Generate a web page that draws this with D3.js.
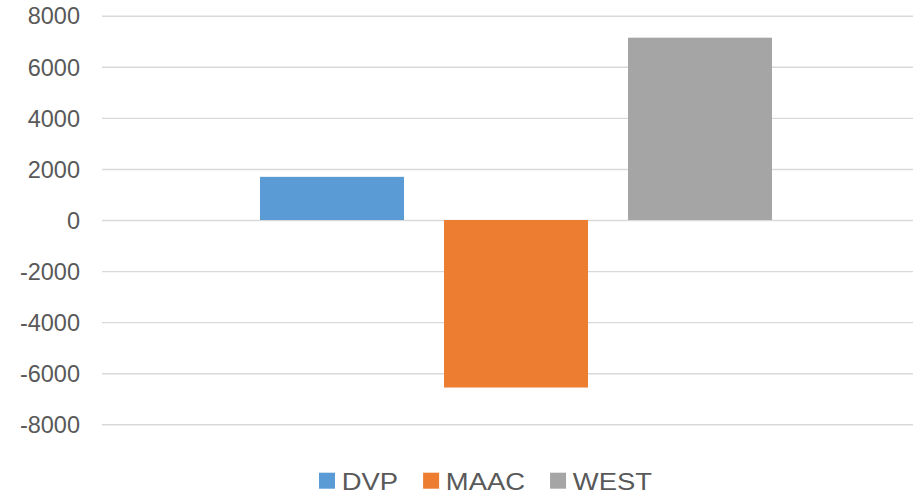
<!DOCTYPE html>
<html>
<head>
<meta charset="utf-8">
<script src="https://cdn.jsdelivr.net/npm/d3@7"></script>
<style>
  html, body { margin: 0; padding: 0; background: #fff; }
  text { font-family: "Liberation Sans", Arial, sans-serif; fill: #595959; }
</style>
</head>
<body>
<div id="chart"></div>
<script>
// data
const categories = ["Region"]
const seriesNames = ["DVP", "MAAC", "WEST"]
const seriesValues = [1690, -6560, 7140]
const yTicks = [-8000, -6000, -4000, -2000, 0, 2000, 4000, 6000, 8000]
const colors = ["#5B9BD5", "#ED7D31", "#A5A5A5"]

const w = 913
const h = 495
const padLeft = 102
const padRight = 930   // plot area runs past the cropped edge
const padTop = 15.7
const padBottom = 424.3

const svg = d3.select("#chart")
    .append("svg")
    .attr("width", w)
    .attr("height", h)

// scales
const yScale = d3.scaleLinear()
    .domain([-8000, 8000])
    .range([padBottom, padTop])

const x0 = d3.scaleBand()
    .domain(categories)
    .range([padLeft, padRight])
    .paddingInner(0)
    .paddingOuter(0.3086)

const x1 = d3.scaleBand()
    .domain(seriesNames)
    .range([0, x0.bandwidth()])
    .paddingInner(0.2174)
    .paddingOuter(0)

// gridlines + y labels
const yAxis = d3.axisLeft(yScale)
    .tickValues(yTicks)
    .tickSize(-(w - padLeft))
    .tickPadding(22)
    .tickFormat(d => String(d))

const gy = svg.append("g")
    .attr("transform", "translate(" + padLeft + ",0)")
    .call(yAxis)

gy.select(".domain").remove()
gy.selectAll(".tick line")
    .attr("stroke", "#D9D9D9")
    .attr("stroke-width", 1.4)
gy.selectAll(".tick text")
    .attr("font-size", 23.5)
    .attr("fill", "#595959")
    .attr("dy", "0.35em")

// bars
const rows = seriesNames.map((s, i) => ({ cat: categories[0], name: s, value: seriesValues[i], color: colors[i] }))

svg.append("g")
    .selectAll("rect")
    .data(rows)
    .enter()
    .append("rect")
    .attr("x", d => x0(d.cat) + x1(d.name))
    .attr("width", x1.bandwidth())
    .attr("y", d => yScale(Math.max(0, d.value)))
    .attr("height", d => Math.abs(yScale(d.value) - yScale(0)))
    .attr("fill", d => d.color)

// legend (text in the picture is a bit wider than tall, so stretch it)
const stretch = 1.12
const legend = svg.append("g")
    .attr("transform", "translate(319,472.7)")

let lx = 0
rows.forEach(d => {
    const item = legend.append("g").attr("transform", "translate(" + lx + ",0)")
    item.append("rect")
        .attr("width", 16)
        .attr("height", 16)
        .attr("fill", d.color)
    const t = item.append("text")
        .attr("transform", "translate(22.7,16.8) scale(" + stretch + ",1)")
        .attr("font-size", 24.5)
        .text(d.name)
    lx += 22.7 + t.node().getComputedTextLength() * stretch + 25
})
</script>
</body>
</html>
